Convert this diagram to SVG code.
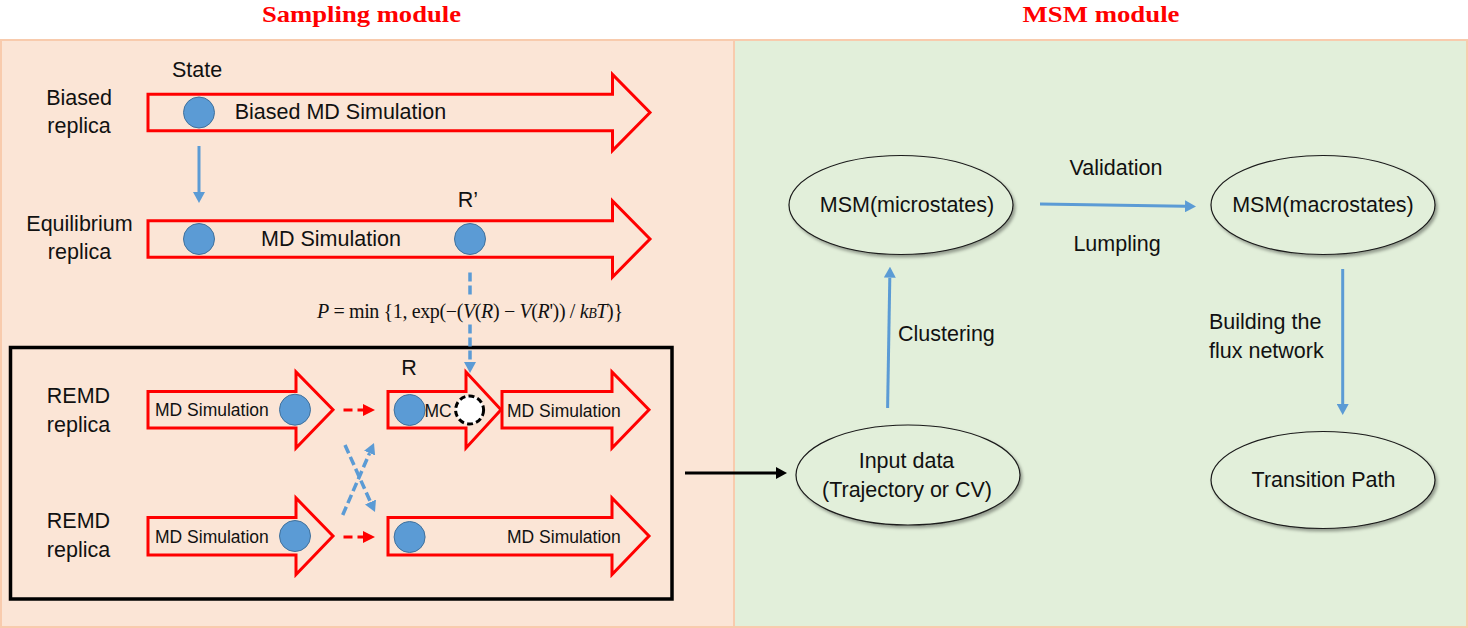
<svg xmlns="http://www.w3.org/2000/svg" width="1468" height="628" viewBox="0 0 1468 628">
<style>
.t{font-family:"Liberation Sans",Arial,sans-serif;font-size:21.5px;fill:#111;}
.s{font-family:"Liberation Sans",Arial,sans-serif;font-size:17.5px;fill:#111;}
.title{font-family:"Liberation Serif","Times New Roman",serif;font-size:24px;font-weight:bold;fill:#FF0000;}
.f{font-family:"Liberation Serif","Times New Roman",serif;font-size:20px;fill:#111;}
.arr{fill:none;stroke:#FF0000;stroke-width:3;}
.dot{fill:#5B9BD5;stroke:#41719C;stroke-width:1;}
.ell{fill:#E2EFDA;stroke:#1a1a1a;stroke-width:1.2;filter:url(#sh);}
.bl{stroke:#5B9BD5;stroke-width:3;fill:none;}
.bd{stroke:#5B9BD5;stroke-width:3.5;fill:none;stroke-dasharray:9 4;}
.rd{stroke:#FF0000;stroke-width:3;fill:none;stroke-dasharray:9 5;}
</style>
<defs>
<marker id="ab" viewBox="0 0 11 12" refX="0" refY="6" markerWidth="11" markerHeight="12" markerUnits="userSpaceOnUse" orient="auto"><path d="M0,0 L11,6 L0,12 z" fill="#5B9BD5"/></marker>
<marker id="ar" viewBox="0 0 12 12" refX="0" refY="6" markerWidth="12" markerHeight="12" markerUnits="userSpaceOnUse" orient="auto"><path d="M0,0 L12,6 L0,12 z" fill="#FF0000"/></marker>
<marker id="ak" viewBox="0 0 11 12" refX="0" refY="6" markerWidth="11" markerHeight="12" markerUnits="userSpaceOnUse" orient="auto"><path d="M0,0 L11,6 L0,12 z" fill="#000"/></marker>
<filter id="sh" x="-10%" y="-10%" width="125%" height="130%"><feDropShadow dx="2" dy="2.5" stdDeviation="1.5" flood-color="#000" flood-opacity="0.35"/></filter>
</defs>
<rect width="1468" height="628" fill="#fff"/>
<g id="panels">
<rect x="1" y="40" width="733" height="587" fill="#FBE5D6" stroke="#F8CBAD" stroke-width="2"/>
<rect x="734" y="40" width="733" height="587" fill="#E2EFDA" stroke="#F8CBAD" stroke-width="2"/>
</g>
<g id="titles">
<text class="title" x="361.5" y="22" text-anchor="middle" textLength="199" lengthAdjust="spacingAndGlyphs">Sampling module</text>
<text class="title" x="1101" y="22" text-anchor="middle" textLength="157" lengthAdjust="spacingAndGlyphs">MSM module</text>
</g>
<g id="biased-replica">
<text class="t" x="79" y="105" text-anchor="middle">Biased</text>
<text class="t" x="79" y="133" text-anchor="middle">replica</text>
<text class="t" x="197" y="77" text-anchor="middle">State</text>
<path class="arr" d="M148,94.25 H612.5 V74.5 L650,112.5 L612.5,150.5 V130.75 H148 Z"/>
<circle class="dot" cx="199" cy="112.5" r="15.5"/>
<text class="t" x="340.5" y="119" text-anchor="middle">Biased MD Simulation</text>
</g>
<g id="equilibrium-replica">
<text class="t" x="79.5" y="231" text-anchor="middle">Equilibrium</text>
<text class="t" x="79.5" y="259" text-anchor="middle">replica</text>
<text class="t" x="468" y="207" text-anchor="middle">R’</text>
<path class="arr" d="M148,220.75 H612.5 V201 L650,239 L612.5,277 V257.25 H148 Z"/>
<circle class="dot" cx="199" cy="239" r="15.5"/>
<circle class="dot" cx="470" cy="239" r="15.5"/>
<text class="t" x="331" y="246" text-anchor="middle">MD Simulation</text>
</g>
<g id="remd-box">
<rect x="10.5" y="347.5" width="661.5" height="251.5" fill="none" stroke="#000" stroke-width="3.5"/>
</g>
<g id="remd-replica-1">
<text class="t" x="78.5" y="403" text-anchor="middle">REMD</text>
<text class="t" x="78.5" y="432" text-anchor="middle">replica</text>
<path class="arr" d="M148,391.5 H296 V372 L333,409.7 L296,448 V428 H148 Z"/>
<text class="s" x="155" y="416">MD Simulation</text>
<circle class="dot" cx="295" cy="409.7" r="15.5"/>
<text class="t" x="409" y="375" text-anchor="middle">R</text>
<path class="arr" d="M388,391.5 H466 V372 L501,409.7 L466,448 V428 H388 Z"/>
<circle class="dot" cx="409.6" cy="410" r="15.5"/>
<text class="s" x="424.5" y="417" font-size="16.5">MC</text>
<circle cx="469.6" cy="410" r="14" fill="#fff" stroke="#000" stroke-width="3" stroke-dasharray="6 3.2"/>
<path class="arr" d="M502,391.5 H612 V372 L649,409.7 L612,448 V428 H502 Z"/>
<text class="s" x="507" y="417">MD Simulation</text>
</g>
<g id="remd-replica-2">
<text class="t" x="78.5" y="528" text-anchor="middle">REMD</text>
<text class="t" x="78.5" y="557" text-anchor="middle">replica</text>
<path class="arr" d="M148,517.5 H296 V498 L333,536 L296,574.5 V555 H148 Z"/>
<text class="s" x="155" y="543">MD Simulation</text>
<circle class="dot" cx="295" cy="536" r="15.5"/>
<path class="arr" d="M388,517.5 H612 V498 L649,536 L612,574.5 V555 H388 Z"/>
<circle class="dot" cx="409.6" cy="537" r="15.5"/>
<text class="s" x="507" y="543">MD Simulation</text>
</g>
<g id="msm-microstates">
<ellipse class="ell" cx="901" cy="205" rx="112" ry="49.5"/>
<text class="t" x="907" y="212" text-anchor="middle">MSM(microstates)</text>
</g>
<g id="msm-macrostates">
<ellipse class="ell" cx="1323" cy="205" rx="112" ry="49.5"/>
<text class="t" x="1323" y="212" text-anchor="middle">MSM(macrostates)</text>
</g>
<g id="input-data">
<ellipse class="ell" cx="908" cy="475" rx="112" ry="50"/>
<text class="t" x="906.5" y="468" text-anchor="middle">Input data</text>
<text class="t" x="907" y="497" text-anchor="middle">(Trajectory or CV)</text>
</g>
<g id="transition-path">
<ellipse class="ell" cx="1323" cy="480" rx="112" ry="48.5"/>
<text class="t" x="1323.5" y="487" text-anchor="middle">Transition Path</text>
</g>
<g id="connectors">
<line class="bl" x1="199" y1="146" x2="199" y2="192" marker-end="url(#ab)"/>
<line class="bd" x1="470" y1="272.5" x2="470" y2="362" marker-end="url(#ab)"/>
<line class="bd" x1="345" y1="445" x2="370.5" y2="502" marker-end="url(#ab)"/>
<line class="bd" x1="342.7" y1="515" x2="369.6" y2="453.1" marker-end="url(#ab)"/>
<line class="rd" x1="343.5" y1="410" x2="363" y2="410" marker-end="url(#ar)"/>
<line class="rd" x1="343.5" y1="537" x2="363" y2="537" marker-end="url(#ar)"/>
<line x1="685" y1="473" x2="776" y2="473" stroke="#000" stroke-width="3" marker-end="url(#ak)"/>
<line class="bl" x1="1040" y1="204" x2="1185" y2="206.3" stroke-width="3.5" marker-end="url(#ab)"/>
<line class="bl" x1="887.6" y1="408" x2="889.8" y2="277.7" marker-end="url(#ab)"/>
<line class="bl" x1="1342.7" y1="269" x2="1342.7" y2="404" marker-end="url(#ab)"/>
</g>
<g id="formula">
<rect x="312" y="297" width="316" height="27" fill="#FBE5D6"/>
<text class="f" x="317" y="318" textLength="306" lengthAdjust="spacing"><tspan font-style="italic">P</tspan> = min {1, exp(−(<tspan font-style="italic">V</tspan>(<tspan font-style="italic">R</tspan>) − <tspan font-style="italic">V</tspan>(<tspan font-style="italic">R</tspan>')) / <tspan font-style="italic">k</tspan><tspan font-size="14" font-style="italic">B</tspan><tspan font-style="italic">T</tspan>)}</text>
</g>
<g id="labels">
<text class="t" x="1116" y="175" text-anchor="middle">Validation</text>
<text class="t" x="1117" y="251" text-anchor="middle">Lumpling</text>
<text class="t" x="898" y="341">Clustering</text>
<text class="t" x="1209" y="329">Building the</text>
<text class="t" x="1209" y="358">flux network</text>
</g>
</svg>
